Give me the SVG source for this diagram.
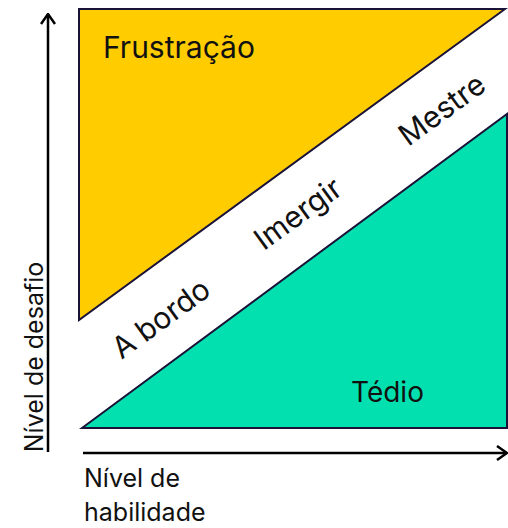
<svg xmlns="http://www.w3.org/2000/svg" width="508" height="528" viewBox="0 0 508 528">
<style>
.zone{stroke:#1a1238;stroke-width:2;stroke-linejoin:miter}
.lbl{font-family:Inter,"Noto Sans","Liberation Sans",sans-serif;fill:#111;font-size:30px}
.ax{font-family:Inter,"Noto Sans","Liberation Sans",sans-serif;fill:#111;font-size:25px}
.axis{stroke:#000;stroke-width:2.5;fill:none}
</style>
<defs>
<marker id="arr" viewBox="0 0 12 16" refX="11" refY="8" markerWidth="12" markerHeight="16" markerUnits="userSpaceOnUse" orient="auto">
<path d="M1,1 L11,8 L1,15" fill="none" stroke="#000" stroke-width="2.5"/>
</marker>
</defs>
<g id="frustracao">
<polygon class="zone" points="79,9 505,9 79,320" fill="#FFCC00"/>
<text class="lbl" x="103" y="58">Frustração</text>
</g>
<g id="tedio">
<polygon class="zone" points="82,428 507,114 507,428" fill="#03E0B0"/>
<text class="lbl" x="351" y="402" style="font-size:28px">Tédio</text>
</g>
<g id="a-bordo"><text class="lbl" text-anchor="middle" transform="translate(167,327) rotate(-36)">A bordo</text></g>
<g id="imergir"><text class="lbl" text-anchor="middle" transform="translate(304,222) rotate(-36)">Imergir</text></g>
<g id="mestre"><text class="lbl" text-anchor="middle" transform="translate(448,118) rotate(-36)">Mestre</text></g>
<g id="connectors">
<line class="axis" x1="48" y1="452" x2="48" y2="14" marker-end="url(#arr)"/>
<line class="axis" x1="83" y1="453" x2="507" y2="453" marker-end="url(#arr)"/>
</g>
<g id="eixo-y"><text class="ax" text-anchor="middle" transform="translate(43,357) rotate(-90)">Nível de desafio</text></g>
<g id="eixo-x">
<text class="ax" x="84" y="487">Nível de</text>
<text class="ax" x="84" y="521">habilidade</text>
</g>
</svg>
